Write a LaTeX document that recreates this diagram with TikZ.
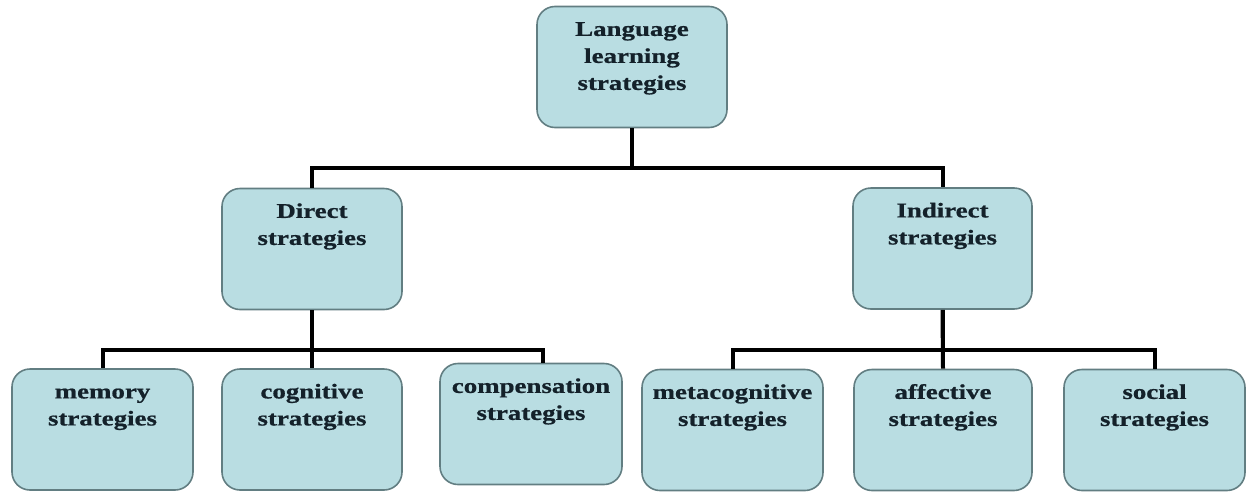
\documentclass[tikz,border=0pt]{standalone}
\usepackage{fontspec}
\setmainfont{Liberation Serif}[FakeStretch=1.28, BoldFeatures={FakeBold=0.8}]
\definecolor{boxfill}{HTML}{B9DDE2}
\definecolor{boxline}{HTML}{627E82}
\definecolor{txtcol}{HTML}{14212A}
\newcommand{\boxtext}[1]{\parbox[c][100pt][t]{170pt}{\centering\strut #1}}
\tikzset{
  stratbox/.style={draw=boxline, line width=1.6pt, fill=boxfill, rounded corners=18pt,
    inner xsep=0pt, inner ysep=10pt, minimum height=121pt, text=txtcol,
    font=\fontsize{21}{27}\selectfont\bfseries},
  conn/.style={line width=4pt, draw=black}
}
\begin{document}
\begin{tikzpicture}[x=1pt,y=-1pt]
\useasboundingbox (0,0) rectangle (1250,493);
\node[stratbox, minimum width=190pt] (top) at (632,67) {\boxtext{Language\\learning\\strategies}};
\node[stratbox, minimum width=180pt] (direct) at (312,249) {\boxtext{Direct\\strategies}};
\node[stratbox, minimum width=179pt] (indirect) at (942.5,248.5) {\boxtext{Indirect\\strategies}};
\node[stratbox, minimum width=181pt] (memory) at (102.5,429.5) {\boxtext{memory\\strategies}};
\node[stratbox, minimum width=180pt] (cognitive) at (312,429.5) {\boxtext{cognitive\\strategies}};
\node[stratbox, minimum width=182pt] (compensation) at (531,424) {\boxtext{compensation\\strategies}};
\node[stratbox, minimum width=181pt] (metacognitive) at (732.5,430) {\boxtext{metacognitive\\strategies}};
\node[stratbox, minimum width=178pt] (affective) at (943,430) {\boxtext{affective\\strategies}};
\node[stratbox, minimum width=181pt] (social) at (1154.5,430) {\boxtext{social\\strategies}};
% connectors
\draw[conn] (top.south) -- ++(0,40) -| (direct.north);
\draw[conn] (top.south) -- ++(0,40) -| (indirect.north);
\draw[conn] (direct.south) -- ++(0,40) -| (memory.north);
\draw[conn] (direct.south) -- (cognitive.north);
\draw[conn] (direct.south) -- ++(0,40) -| ([xshift=12pt]compensation.north);
\draw[conn] (indirect.south) -- ++(0,40) -| (metacognitive.north);
\draw[conn] (indirect.south) -- (affective.north);
\draw[conn] (indirect.south) -- ++(0,40) -| (social.north);
\end{tikzpicture}
\end{document}
